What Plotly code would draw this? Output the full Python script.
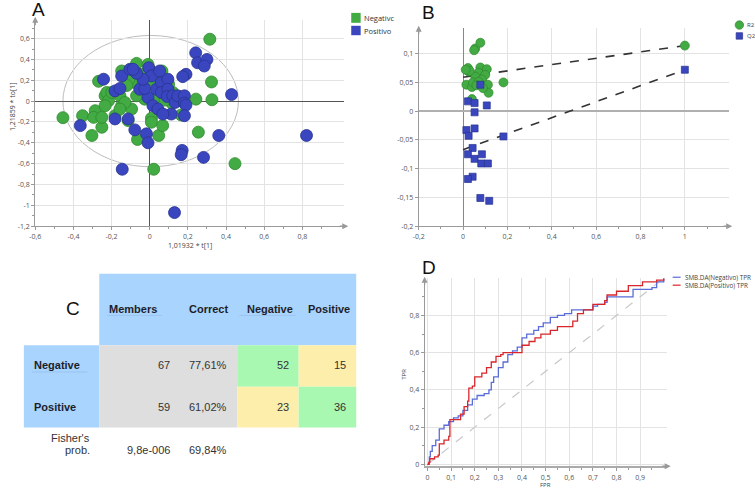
import plotly.graph_objects as go

W, H = 755, 494

# ---------------- Panel A: score plot ----------------
neg_t1 = [0.315, -0.455, -0.352, -0.303, -0.268, -0.286, -0.294, -0.251, -0.234, -0.225,
          -0.216, -0.182, -0.147, -0.156, -0.113, -0.095, -0.078, -0.069, -0.095, -0.109,
          -0.043, -0.026, -0.064, 0.000, 0.009, 0.023, 0.009, 0.009, 0.021, 0.047,
          0.068, 0.064, 0.099, 0.116, 0.165, 0.242, 0.255, 0.324, 0.326, 0.447,
          -0.199, -0.130, -0.069, -0.043, 0.035, 0.061, -0.251, -0.234, -0.147, -0.009,
          0.121, -0.156, -0.120, 0.080]
neg_to1 = [0.594, -0.159, -0.140, -0.330, 0.190, -0.092, -0.156, -0.251, 0.051, 0.083,
           0.003, -0.140, -0.044, 0.051, -0.187, -0.076, 0.178, 0.362, 0.289, 0.210,
           0.140, 0.019, -0.368, 0.298, 0.203, 0.019, -0.165, -0.203, -0.654, -0.330,
           -0.235, 0.289, 0.162, -0.019, -0.133, 0.019, -0.298, 0.184, 0.013, -0.600,
           0.083, -0.013, 0.051, 0.257, 0.241, 0.114, -0.156, -0.044, 0.289, 0.352,
           0.083, -0.076, 0.150, 0.010]
pos_t1 = [0.241, 0.251, 0.300, 0.286, 0.190, 0.173, 0.429, 0.362, 0.282, 0.170,
          0.165, 0.130, -0.144, -0.364, -0.242, -0.182, -0.156, -0.147, -0.104, -0.113,
          -0.078, -0.017, -0.009, -0.005, 0.009, 0.035, 0.061, 0.095, -0.009, 0.017,
          0.043, 0.061, 0.095, 0.092, 0.121, 0.133, 0.147, 0.182, 0.182, 0.190,
          0.113, 0.069, -0.052, -0.026, -0.035, -0.069, -0.182, 0.182, 0.822, -0.087,
          0.052]
pos_to1 = [0.463, 0.368, 0.400, 0.337, 0.257, 0.235, 0.063, -0.330, -0.540, -0.473,
           -0.514, -1.070, -0.654, -0.235, 0.210, 0.098, 0.121, 0.241, 0.305, -0.171,
           -0.276, -0.314, -0.400, 0.321, 0.241, 0.114, 0.178, 0.210, 0.035, -0.044,
           -0.076, 0.083, 0.114, 0.044, 0.051, -0.013, 0.051, 0.051, -0.019, -0.038,
           -0.124, -0.124, 0.114, 0.121, 0.210, 0.267, -0.171, -0.140, -0.330, 0.305,
           0.289]
ellipse = {"cx": 0.005, "cy": 0.0, "rx": 0.46, "ry": 0.63}
a_xticks = [-0.6, -0.4, -0.2, 0.0, 0.2, 0.4, 0.6, 0.8]
a_xtext = ["-0,6", "-0,4", "-0,2", "0", "0,2", "0,4", "0,6", "0,8"]
a_yticks = [-1.2, -1.0, -0.8, -0.6, -0.4, -0.2, 0.0, 0.2, 0.4, 0.6]
a_ytext = ["-1,2", "-1", "-0,8", "-0,6", "-0,4", "-0,2", "0", "0,2", "0,4", "0,6"]

# ---------------- Panel B: permutation plot ----------------
r2_x = [0.055, 0.078, 0.050, 0.022, 0.025, 0.078, 0.107, 0.070, 0.100, 0.055,
        0.085, 0.015, 0.040, 0.045, 0.070, 0.112, 0.115, 0.182, 0.040, 0.030,
        0.060, 0.090, 0.012, 1.0]
r2_y = [0.109, 0.119, 0.106, 0.075, 0.069, 0.076, 0.073, 0.067, 0.063, 0.060,
        0.055, 0.046, 0.042, 0.050, 0.051, 0.046, 0.032, 0.050, 0.021, 0.070,
        0.045, 0.040, 0.072, 0.114]
q2_x = [0.078, 0.022, 0.052, 0.107, 0.052, 0.015, 0.025, 0.052, 0.182, 0.043,
        0.022, 0.052, 0.085, 0.082, 0.112, 0.043, 0.022, 0.078, 0.118, 1.0]
q2_y = [0.046, 0.017, 0.014, 0.010, -0.002, -0.033, -0.043, -0.030, -0.044, -0.064,
        -0.075, -0.083, -0.075, -0.091, -0.091, -0.114, -0.118, -0.151, -0.156, 0.072]
r2_fit = [0.059, 0.114]   # intercept line values at x=0 and x=1
q2_fit = [-0.067, 0.072]
fit_x = [0.0, 1.0]
b_xticks = [-0.2, 0.0, 0.2, 0.4, 0.6, 0.8, 1.0]
b_xtext = ["-0,2", "0", "0,2", "0,4", "0,6", "0,8", "1"]
b_yticks = [-0.2, -0.15, -0.1, -0.05, 0.0, 0.05, 0.1]
b_ytext = ["-0,2", "-0,15", "-0,1", "-0,05", "0", "0,05", "0,1"]

# ---------------- Panel C: misclassification table ----------------
c_cols = ["Members", "Correct", "Negative", "Positive"]
c_rows = ["Negative", "Positive"]
c_members = ["67", "59"]
c_correct = ["77,61%", "61,02%"]
c_pred_neg = ["52", "23"]
c_pred_pos = ["15", "36"]
c_footer = ["9,8e-006", "69,84%"]

# ---------------- Panel D: ROC curves ----------------
roc_neg_fpr = [0, 0.008, 0.012, 0.02, 0.035, 0.05, 0.07, 0.09, 0.11, 0.13, 0.15, 0.17,
               0.19, 0.21, 0.24, 0.26, 0.27, 0.28, 0.30, 0.32, 0.34, 0.36, 0.38, 0.40,
               0.42, 0.45, 0.47, 0.49, 0.52, 0.55, 0.58, 0.61, 0.68, 0.70, 0.72, 0.75,
               0.76, 0.85, 0.87, 0.95, 0.97, 1.0]
roc_neg_tpr = [0, 0.04, 0.07, 0.10, 0.13, 0.19, 0.21, 0.23, 0.25, 0.26, 0.29, 0.32,
               0.35, 0.37, 0.38, 0.40, 0.44, 0.47, 0.52, 0.55, 0.59, 0.61, 0.63, 0.68,
               0.70, 0.72, 0.74, 0.76, 0.79, 0.80, 0.81, 0.83, 0.83, 0.85, 0.86, 0.87,
               0.90, 0.90, 0.94, 0.95, 0.98, 1.0]
roc_pos_fpr = [0, 0.005, 0.01, 0.03, 0.045, 0.05, 0.07, 0.09, 0.095, 0.12, 0.14, 0.155,
               0.17, 0.175, 0.19, 0.20, 0.23, 0.25, 0.27, 0.29, 0.31, 0.32, 0.385, 0.40,
               0.43, 0.455, 0.48, 0.52, 0.55, 0.61, 0.615, 0.635, 0.66, 0.70, 0.75, 0.76,
               0.80, 0.85, 0.91, 0.97, 1.0]
roc_pos_tpr = [0, 0.01, 0.03, 0.04, 0.05, 0.11, 0.13, 0.15, 0.24, 0.24, 0.27, 0.31,
               0.34, 0.41, 0.42, 0.47, 0.49, 0.52, 0.55, 0.58, 0.59, 0.60, 0.60, 0.64,
               0.66, 0.68, 0.70, 0.72, 0.74, 0.74, 0.77, 0.81, 0.83, 0.86, 0.88, 0.91,
               0.93, 0.96, 0.98, 0.99, 1.0]
diag = [0.0, 1.0]
d_xticks = [0, 0.1, 0.2, 0.3, 0.4, 0.5, 0.6, 0.7, 0.8, 0.9]
d_xtext = ["0", "0,1", "0,2", "0,3", "0,4", "0,5", "0,6", "0,7", "0,8", "0,9"]
d_yticks = [0, 0.2, 0.4, 0.6, 0.8]
d_ytext = ["0", "0,2", "0,4", "0,6", "0,8"]

# ---------------- styling ----------------
GREEN, GREEN_LN = "#43ab43", "#2f8a2f"
BLUE, BLUE_LN = "#3a46bf", "#28338f"
GRID = "#e3e3e3"
AXC = "#9a9a9a"
TICKF = dict(family="Open Sans, DejaVu Sans", size=7, color="#555")
TBL = "Liberation Sans, Arial"


def px(x):
    return x / W


def py(y):
    return 1 - y / H


fig = go.Figure()

# Panel A traces
fig.add_trace(go.Scatter(x=neg_t1, y=neg_to1, mode="markers", xaxis="x", yaxis="y",
                         marker=dict(size=12, color=GREEN, line=dict(color=GREEN_LN, width=0.8)),
                         showlegend=False))
fig.add_trace(go.Scatter(x=pos_t1, y=pos_to1, mode="markers", xaxis="x", yaxis="y",
                         marker=dict(size=12, color=BLUE, line=dict(color=BLUE_LN, width=0.8)),
                         showlegend=False))

# Panel B traces
fig.add_trace(go.Scatter(x=fit_x, y=r2_fit, mode="lines", xaxis="x2", yaxis="y2",
                         line=dict(color="#333", dash="dash", width=1.6), showlegend=False))
fig.add_trace(go.Scatter(x=fit_x, y=q2_fit, mode="lines", xaxis="x2", yaxis="y2",
                         line=dict(color="#333", dash="dash", width=1.6), showlegend=False))
fig.add_trace(go.Scatter(x=r2_x, y=r2_y, mode="markers", xaxis="x2", yaxis="y2",
                         marker=dict(size=9, color=GREEN, line=dict(color=GREEN_LN, width=0.7)),
                         showlegend=False))
fig.add_trace(go.Scatter(x=q2_x, y=q2_y, mode="markers", xaxis="x2", yaxis="y2",
                         marker=dict(size=7, symbol="square", color=BLUE,
                                     line=dict(color=BLUE_LN, width=0.7)),
                         showlegend=False))

# Panel D traces
fig.add_trace(go.Scatter(x=diag, y=diag, mode="lines", xaxis="x3", yaxis="y3",
                         line=dict(color="#c8c8c8", dash="dash", width=1.2), showlegend=False))
fig.add_trace(go.Scatter(x=roc_neg_fpr, y=roc_neg_tpr, mode="lines", xaxis="x3", yaxis="y3",
                         line=dict(color="#5a6cd8", width=1.3, shape="hv"), showlegend=False))
fig.add_trace(go.Scatter(x=roc_pos_fpr, y=roc_pos_tpr, mode="lines", xaxis="x3", yaxis="y3",
                         line=dict(color="#d8262b", width=1.3, shape="hv"), showlegend=False))


def axis(domain, rng, tv, tt, anchor, zl=True, zlc="#555", zlw=1, minor=None, grid=True):
    d = dict(domain=domain, range=rng, tickmode="array", tickvals=tv, ticktext=tt,
             anchor=anchor, showgrid=grid, gridcolor=GRID, gridwidth=1,
             zeroline=zl, zerolinecolor=zlc, zerolinewidth=zlw,
             showline=True, linecolor=AXC, linewidth=1, ticks="outside", ticklen=3,
             tickcolor=AXC, tickfont=TICKF, fixedrange=True)
    if minor is not None:
        d["minor"] = dict(tickmode="array", tickvals=minor, ticks="outside", ticklen=2,
                          tickcolor=AXC, showgrid=False)
    return d


a_minor_x = [round(-0.5 + 0.2 * i, 2) for i in range(8)]
a_minor_y = [round(-1.1 + 0.2 * i, 2) for i in range(10)]
b_minor_x = [round(-0.1 + 0.2 * i, 2) for i in range(7)]
d_minor_x = [round(0.05 + 0.1 * i, 2) for i in range(10)]
d_minor_y = [round(0.1 + 0.2 * i, 2) for i in range(5)]

layout = dict(
    width=W, height=H, autosize=False,
    margin=dict(l=0, r=0, t=0, b=0),
    paper_bgcolor="white", plot_bgcolor="white",
    showlegend=False,
    xaxis=axis([29.5 / W, 341 / W], [-0.6, 1.02], a_xticks, a_xtext, "y", minor=a_minor_x),
    yaxis=axis([py(228), py(20)], [-1.2, 0.78], a_yticks, a_ytext, "x", minor=a_minor_y),
    xaxis2=axis([416 / W, 729 / W], [-0.2, 1.2], b_xticks, b_xtext, "y2", zlc="#888",
                minor=b_minor_x),
    yaxis2=axis([py(228), py(28)], [-0.2, 0.145], b_yticks, b_ytext, "x2", zlc="#b0b0b0",
                zlw=2),
    xaxis3=axis([422 / W, 666.6 / W], [-0.012, 1.015], d_xticks, d_xtext, "y3", zl=False,
                minor=d_minor_x),
    yaxis3=axis([py(470), py(280.5)], [-0.01, 1.0], d_yticks, d_ytext, "x3", zl=False,
                minor=d_minor_y),
)
layout["xaxis3"]["linewidth"] = 2
layout["xaxis3"]["linecolor"] = "#aaa"
fig.update_layout(**layout)

shapes = []
ann = []

# Hotelling ellipse
shapes.append(dict(type="circle", xref="x", yref="y",
                   x0=ellipse["cx"] - ellipse["rx"], x1=ellipse["cx"] + ellipse["rx"],
                   y0=ellipse["cy"] - ellipse["ry"], y1=ellipse["cy"] + ellipse["ry"],
                   line=dict(color="#bdbdbd", width=1), layer="below"))


def arrow(x, y, ax, ay):
    ann.append(dict(xref="paper", yref="paper", x=px(x), y=py(y), ax=ax, ay=ay, text="",
                    showarrow=True, arrowhead=2, arrowsize=1, arrowwidth=1.2,
                    arrowcolor="#999"))


arrow(29.5, 17, 0, 10)
arrow(345, 228, -10, 0)
arrow(416, 26, 0, 10)
arrow(732, 228, -10, 0)
arrow(422, 279, 0, 10)
arrow(670, 470, -10, 0)


def text(x, y, s, size=7, color="#444", family="Open Sans, DejaVu Sans", xanchor="center",
         angle=0, bold=False):
    if bold:
        s = "<b>" + s + "</b>"
    ann.append(dict(xref="paper", yref="paper", x=px(x), y=py(y), text=s, showarrow=False,
                    xanchor=xanchor, yanchor="middle", textangle=angle,
                    font=dict(size=size, color=color, family=family)))


# Panel letters
text(33, 10, "A", size=19, color="#111", family=TBL)
text(426, 13, "B", size=19, color="#111", family=TBL)
text(68, 311, "C", size=19, color="#111", family=TBL)
text(426, 270, "D", size=19, color="#111", family=TBL)

# Panel A titles & legend
text(185, 248, "1,01932 * t[1]", size=7)
text(6, 107, "1,21859 * to[1]", size=7, angle=-90)
shapes.append(dict(type="rect", xref="paper", yref="paper", x0=px(348), x1=px(357.5),
                   y0=py(23), y1=py(13), fillcolor=GREEN, line=dict(width=0)))
shapes.append(dict(type="rect", xref="paper", yref="paper", x0=px(348), x1=px(357.5),
                   y0=py(35.5), y1=py(26), fillcolor=BLUE, line=dict(width=0)))
text(359, 18, "Negativc", size=7.5, xanchor="left", color="#333")
text(359, 31, "Positivo", size=7.5, xanchor="left", color="#333")

# Panel B legend
shapes.append(dict(type="circle", xref="paper", yref="paper", x0=px(735), x1=px(743.5),
                   y0=py(29.5), y1=py(21), fillcolor=GREEN, line=dict(color=GREEN_LN, width=0.7)))
shapes.append(dict(type="rect", xref="paper", yref="paper", x0=px(736), x1=px(742.5),
                   y0=py(39.5), y1=py(33), fillcolor=BLUE, line=dict(color=BLUE_LN, width=0.7)))
text(745, 25, "R2", size=6, xanchor="left", color="#444")
text(745, 36, "Q2", size=6, xanchor="left", color="#444")

# Panel D titles & legend
text(544, 489, "FPR", size=6)
text(401, 377, "TPR", size=6, angle=-90)
shapes.append(dict(type="line", xref="paper", yref="paper", x0=px(672), x1=px(680),
                   y0=py(279.5), y1=py(279.5), line=dict(color="#5a6cd8", width=1.2)))
shapes.append(dict(type="line", xref="paper", yref="paper", x0=px(672), x1=px(680),
                   y0=py(287.5), y1=py(287.5), line=dict(color="#d8262b", width=1.2)))
text(682, 279.5, "SMB.DA(Negativo) TPR", size=6.3, xanchor="left", color="#444")
text(682, 287.5, "SMB.DA(Positivo) TPR", size=6.3, xanchor="left", color="#444")


# Panel C table
def rect(x0, y0, x1, y1, color):
    shapes.append(dict(type="rect", xref="paper", yref="paper", x0=px(x0), x1=px(x1),
                       y0=py(y1), y1=py(y0), fillcolor=color, line=dict(width=0),
                       layer="below"))


HDR, GRY, GRN, YEL = "#a8d4fe", "#dedede", "#a9f8b2", "#fdeeab"
rect(94, 276, 353, 348, HDR)
rect(18, 348, 94, 431, HDR)
rect(94, 348, 233, 431, GRY)
rect(233, 348, 295, 390, GRN)
rect(295, 348, 353, 390, YEL)
rect(233, 390, 295, 431, YEL)
rect(295, 390, 353, 431, GRN)

for (x0, x1, y) in [(102, 157, 318), (235, 292, 318), (26, 82, 375)]:
    shapes.append(dict(type="line", xref="paper", yref="paper", x0=px(x0), x1=px(x1),
                       y0=py(y), y1=py(y), line=dict(color="#9cc4ee", width=1)))

hdr_x = [102, 182, 241, 302]
for hx, s in zip(hdr_x, c_cols):
    text(hx, 312, s, size=11, color="#1e1e2a", family=TBL, xanchor="left", bold=True)

row_y = [368, 410.5]
for i, ry in enumerate(row_y):
    text(26, ry, c_rows[i], size=11, color="#1e1e2a", family=TBL, xanchor="left", bold=True)
    text(167, ry, c_members[i], size=11, color="#333", family=TBL, xanchor="right")
    text(225, ry, c_correct[i], size=11, color="#333", family=TBL, xanchor="right")
    text(287, ry, c_pred_neg[i], size=11, color="#333", family=TBL, xanchor="right")
    text(345, ry, c_pred_pos[i], size=11, color="#333", family=TBL, xanchor="right")

text(87, 442, "Fisher's", size=11, color="#333", family=TBL, xanchor="right")
text(87, 454, "prob.", size=11, color="#333", family=TBL, xanchor="right")
text(167, 454, c_footer[0], size=11, color="#333", family=TBL, xanchor="right")
text(225, 454, c_footer[1], size=11, color="#333", family=TBL, xanchor="right")

fig.update_layout(shapes=shapes, annotations=ann)
fig.write_html(
    "out.html",
    config={"displayModeBar": False},
    post_script="document.body.style.margin='0';document.body.style.overflow='hidden';",
)
